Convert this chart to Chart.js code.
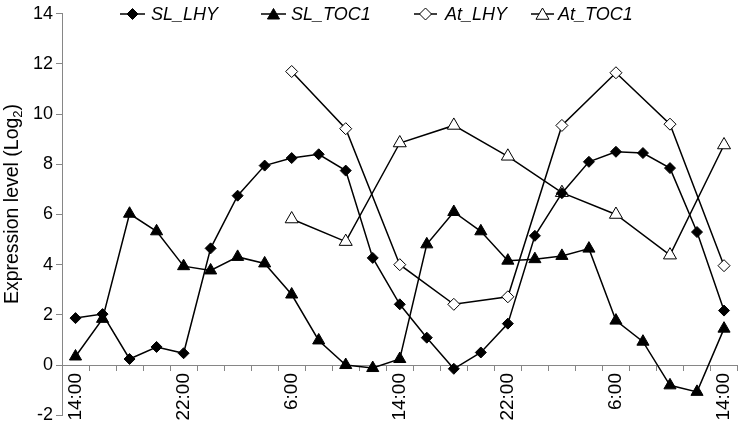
<!DOCTYPE html>
<html><head><meta charset="utf-8">
<script src="https://cdn.jsdelivr.net/npm/chart.js@4.4.1/dist/chart.umd.min.js"></script>
<style>html,body{margin:0;padding:0;background:#fff}#wrap{width:750px;height:429px;position:relative}</style>
</head><body><div id="wrap"><canvas id="c" width="750" height="429"></canvas></div>
<script>
// ---- data ----
const categories = ['14:00','16:00','18:00','20:00','22:00','0:00','2:00','4:00','6:00','8:00','10:00','12:00',
                    '14:00','16:00','18:00','20:00','22:00','0:00','2:00','4:00','6:00','8:00','10:00','12:00','14:00'];
const tickLabelEvery = 4;
const seriesNames = ['SL_LHY','SL_TOC1','At_LHY','At_TOC1'];
const slLHY  = [1.87, 2.03, 0.24, 0.72, 0.47, 4.65, 6.75, 7.95, 8.25, 8.4, 7.75, 4.27, 2.42, 1.09, -0.15, 0.5, 1.65, 5.15, 6.85, 8.1, 8.5, 8.45, 7.85, 5.3, 2.17];
const slTOC1 = [0.34, 1.84, 6.03, 5.33, 3.94, 3.77, 4.31, 4.05, 2.81, 0.98, 0.0, -0.12, 0.24, 4.81, 6.1, 5.33, 4.16, 4.22, 4.35, 4.64, 1.77, 0.93, -0.81, -1.07, 1.45];
const atLHY  = [null,null,null,null,null,null,null,null, 11.7, null, 9.42, null, 4.0, null, 2.42, null, 2.72, null, 9.55, null, 11.65, null, 9.6, null, 3.96];
const atTOC1 = [null,null,null,null,null,null,null,null, 5.82, null, 4.92, null, 8.85, null, 9.55, null, 8.32, null, 6.87, null, 6.0, null, 4.38, null, 8.77];
const yMin = -2, yMax = 14, yStep = 2;
const yTitleParts = ['Expression level (Log', '2', ')'];

// ---- styling ----
const FONT = "'Liberation Sans', Arial, Helvetica, sans-serif";
const AXIS = '#868686';

function drawMarker(ctx, style, x, y, r, fill, stroke, lw) {
  ctx.beginPath();
  if (style === 'rectRot') {
    ctx.moveTo(x - r, y); ctx.lineTo(x, y - r); ctx.lineTo(x + r, y); ctx.lineTo(x, y + r);
  } else {
    const h = Math.sin(Math.PI / 3) * r;
    ctx.moveTo(x, y - r); ctx.lineTo(x + h, y + r / 2); ctx.lineTo(x - h, y + r / 2);
  }
  ctx.closePath();
  ctx.fillStyle = fill; ctx.fill();
  ctx.lineWidth = lw; ctx.strokeStyle = stroke; ctx.stroke();
}

const legendLayout = [
  {x0: 120, x1: 145, mx: 132.5, tx: 151},
  {x0: 261, x1: 286, mx: 273.5, tx: 291},
  {x0: 414, x1: 437, mx: 425.5, tx: 445},
  {x0: 531, x1: 554, mx: 542.5, tx: 558}
];

const overlayPlugin = {
  id: 'overlay',
  afterDraw(chart) {
    const ctx = chart.ctx;
    // legend
    ctx.save();
    const ly = 14;
    chart.data.datasets.forEach((ds, i) => {
      const L = legendLayout[i];
      ctx.beginPath(); ctx.moveTo(L.x0, ly); ctx.lineTo(L.x1, ly);
      ctx.lineWidth = 1.5; ctx.strokeStyle = '#000'; ctx.stroke();
      drawMarker(ctx, ds.pointStyle, L.mx, ly + (ds.pointStyle === 'triangle' ? 1.5 : 0), ds.pointRadius, ds.pointBackgroundColor, '#000', 1);
      ctx.fillStyle = '#000';
      ctx.font = 'italic 18px ' + FONT;
      ctx.textBaseline = 'middle'; ctx.textAlign = 'left';
      ctx.fillText(ds.label, L.tx, ly + 1);
    });
    ctx.restore();
    // y title
    ctx.save();
    const cx = 13, cy = 204;
    ctx.translate(cx, cy); ctx.rotate(-Math.PI / 2);
    const mainFont = '19.5px ' + FONT, subFont = '13px ' + FONT;
    ctx.font = mainFont; const w0 = ctx.measureText(yTitleParts[0]).width; const w2 = ctx.measureText(yTitleParts[2]).width;
    ctx.font = subFont; const w1 = ctx.measureText(yTitleParts[1]).width;
    let x = -(w0 + w1 + w2) / 2;
    ctx.fillStyle = '#000'; ctx.textBaseline = 'middle'; ctx.textAlign = 'left';
    ctx.font = mainFont; ctx.fillText(yTitleParts[0], x, 0); x += w0;
    ctx.font = subFont; ctx.fillText(yTitleParts[1], x, 5.5); x += w1;
    ctx.font = mainFont; ctx.fillText(yTitleParts[2], x, 0);
    ctx.restore();
  }
};

const common = {borderColor: '#000', borderWidth: 1.5, tension: 0, fill: false, spanGaps: true,
                pointBorderColor: '#000', pointBorderWidth: 1};

new Chart(document.getElementById('c'), {
  type: 'line',
  data: {
    labels: categories,
    datasets: [
      Object.assign({label: seriesNames[0], data: slLHY, pointStyle: 'rectRot', pointRadius: 5.5, pointBackgroundColor: '#000'}, common),
      Object.assign({label: seriesNames[1], data: slTOC1, pointStyle: 'triangle', pointRadius: 7, pointBackgroundColor: '#000'}, common),
      Object.assign({label: seriesNames[2], data: atLHY, pointStyle: 'rectRot', pointRadius: 6, pointBackgroundColor: '#fff'}, common),
      Object.assign({label: seriesNames[3], data: atTOC1, pointStyle: 'triangle', pointRadius: 7.5, pointBackgroundColor: '#fff'}, common)
    ]
  },
  options: {
    responsive: false,
    animation: false,
    layout: {padding: {left: 0, right: 2, top: 11, bottom: 10}},
    plugins: {legend: {display: false}, tooltip: {enabled: false}},
    scales: {
      x: {
        type: 'category',
        position: {y: 0},
        offset: true,
        grid: {display: true, drawOnChartArea: false, drawTicks: true, tickLength: 5, offset: true, color: AXIS},
        border: {display: true, color: AXIS, width: 1},
        ticks: {autoSkip: false, minRotation: 90, maxRotation: 90, padding: 3, color: '#000',
                font: {family: FONT, size: 19},
                callback: (v, i) => (i % tickLabelEvery === 0 ? categories[i] : '')}
      },
      y: {
        min: yMin, max: yMax,
        ticks: {stepSize: yStep, color: '#000', padding: 3, font: {family: FONT, size: 18}},
        grid: {display: true, drawOnChartArea: false, drawTicks: true, tickLength: 6, color: AXIS},
        border: {display: true, color: AXIS, width: 1},
        afterFit: (s) => { s.width = 62; }
      }
    }
  },
  plugins: [overlayPlugin]
});
</script>
</body></html>
